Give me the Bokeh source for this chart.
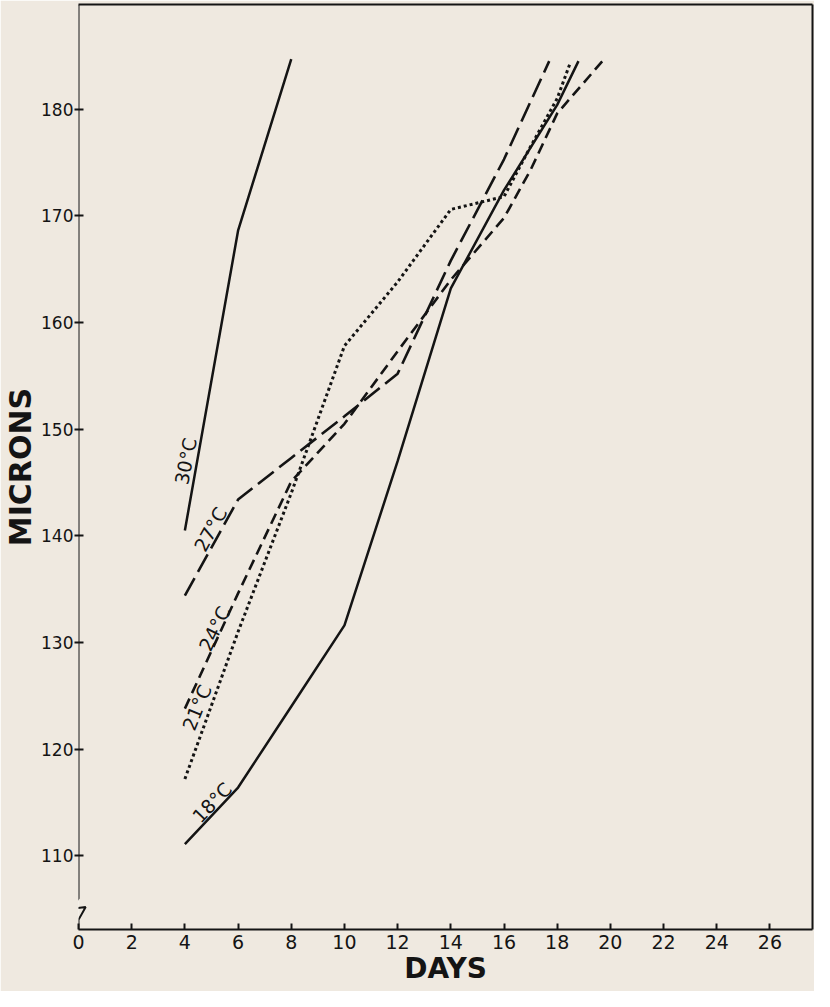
import re
from bokeh.plotting import figure
from bokeh.models import Range1d, LinearAxis, FixedTicker, Label, PolyAnnotation
from bokeh.embed import file_html
from bokeh.resources import INLINE

# ---- data ----
days_30 = [4, 6, 8]
microns_30 = [140.5, 168.6, 184.7]

days_27 = [4, 6, 8, 10, 12, 14, 16, 17.7]
microns_27 = [134.4, 143.4, 147.3, 151.2, 155.2, 165.8, 175.3, 184.5]

days_24 = [4, 6, 8, 10, 12, 14, 16, 17, 18, 19.7]
microns_24 = [123.8, 134.6, 145.1, 150.5, 157.3, 164.0, 169.8, 174.3, 179.6, 184.5]

days_21 = [4, 6, 8, 10, 12, 14, 16, 17, 18, 18.5]
microns_21 = [117.2, 131.0, 144.0, 157.8, 163.8, 170.6, 171.8, 176.5, 181.0, 184.4]

days_18 = [4, 6, 8, 10, 12, 14, 16, 18, 18.8]
microns_18 = [111.1, 116.4, 124.0, 131.6, 147.0, 163.2, 172.4, 180.4, 184.5]

x_ticks = [0, 2, 4, 6, 8, 10, 12, 14, 16, 18, 20, 22, 24, 26]
y_ticks = [110, 120, 130, 140, 150, 160, 170, 180]

PAPER = "#efe9e0"
INK = "#141414"
FONT = "DejaVu Sans"

p = figure(width=814, height=991, output_backend="svg", toolbar_location=None,
           x_range=Range1d(0, 27.6), y_range=Range1d(103.09, 189.81),
           min_border_left=78, min_border_right=2, min_border_top=4, min_border_bottom=62,
           background_fill_color=PAPER, border_fill_color=PAPER, outline_line_color=None)
p.grid.visible = False

xa = p.xaxis[0]
xa.ticker = FixedTicker(ticks=x_ticks)
xa.axis_line_width = 2
xa.axis_line_color = INK
xa.major_tick_in = 6
xa.major_tick_out = 0
xa.major_tick_line_width = 2
xa.major_tick_line_color = INK
xa.minor_tick_line_color = None
xa.major_label_text_font = FONT
xa.major_label_text_font_size = "19px"
xa.major_label_text_color = INK
xa.major_label_standoff = 5
xa.axis_label = "DAYS"
xa.axis_label_text_font = FONT
xa.axis_label_text_font_size = "28px"
xa.axis_label_text_font_style = "bold"
xa.axis_label_text_color = INK
xa.axis_label_standoff = 0

ya = p.yaxis[0]
ya.ticker = FixedTicker(ticks=y_ticks)
ya.axis_line_color = None
ya.major_tick_in = 5
ya.major_tick_out = 4
ya.major_tick_line_width = 2
ya.major_tick_line_color = INK
ya.minor_tick_line_color = None
ya.major_label_text_font = FONT
ya.major_label_text_font_size = "17px"
ya.major_label_text_color = INK
ya.major_label_standoff = 1
ya.axis_label = "MICRONS"
ya.axis_label_text_font = FONT
ya.axis_label_text_font_size = "30px"
ya.axis_label_text_font_style = "bold"
ya.axis_label_text_color = INK
ya.axis_label_standoff = 0

# frame lines on top and right
for loc in ("above", "right"):
    ax = LinearAxis(ticker=FixedTicker(ticks=[]), axis_line_width=2, axis_line_color=INK,
                    major_tick_in=0, major_tick_out=0, minor_tick_in=0, minor_tick_out=0,
                    major_label_text_font_size="0px")
    p.add_layout(ax, loc)

# left border with axis-break zigzag (decoration)
yb = p.y_range.start
yt = p.y_range.end
p.add_layout(PolyAnnotation(
    xs=[0, 0, -0.3, 0.27, 0, 0, 0, 0.27, -0.3, 0],
    ys=[yt, 106.0, 105.0, 105.2, 104.0, yb, 104.0, 105.2, 105.0, 106.0],
    fill_color=None, fill_alpha=0, line_color=INK, line_alpha=1.0, line_width=2))

# series
p.line(days_30, microns_30, line_color=INK, line_width=2.5)
p.line(days_27, microns_27, line_color=INK, line_width=2.6, line_dash="20 7")
p.line(days_24, microns_24, line_color=INK, line_width=2.6, line_dash="11 6")
p.line(days_21, microns_21, line_color=INK, line_width=3, line_dash="3 3")
p.line(days_18, microns_18, line_color=INK, line_width=2.5)

# series labels
for txt, x, y, ang in [("30°C", 4.03, 147.0, 79), ("27°C", 4.96, 140.6, 61),
                       ("24°C", 5.11, 131.3, 64), ("21°C", 4.45, 123.9, 68),
                       ("18°C", 5.02, 115.0, 46)]:
    p.add_layout(Label(x=x, y=y, text=txt, angle=ang, angle_units="deg",
                       text_align="center", text_baseline="middle",
                       text_font=FONT, text_font_size="19px", text_color=INK))

html = file_html(p, INLINE)
html = re.sub(r"<body([^>]*)>", r'<body\1 style="background:%s">' % PAPER, html, count=1)
open("out.html", "w").write(html)
